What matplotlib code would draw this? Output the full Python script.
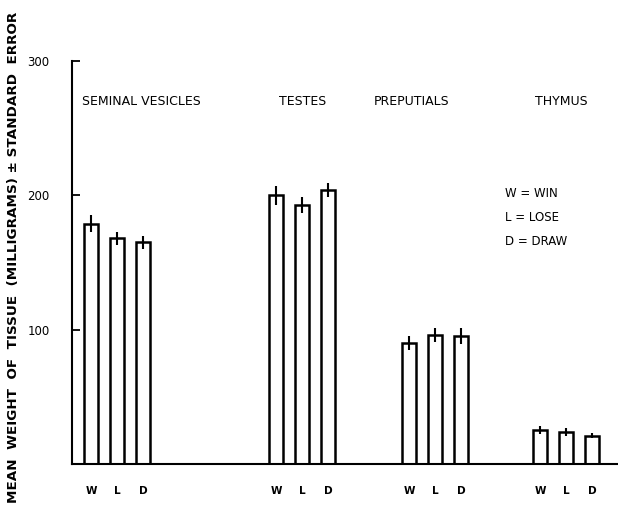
import matplotlib.pyplot as plt

# organ weights (mg) for win / lose / draw
tissues = ["SEMINAL VESICLES", "TESTES", "PREPUTIALS", "THYMUS"]
outcomes = ["W", "L", "D"]
win = [179, 200, 90, 25]
lose = [168, 193, 96, 24]
draw = [165, 204, 95, 21]
win_se = [6, 7, 5, 3]
lose_se = [5, 6, 5, 3]
draw_se = [5, 5, 6, 2]
yticks = [100, 200, 300]

# layout (x in units of bar spacing)
group_centers = [1.73, 8.85, 13.96, 19.0]
title_x = [0.4, 7.95, 11.6, 17.8]
bar_w = 0.54

fig = plt.figure(figsize=(6.18, 5.24), dpi=100)
ax = fig.add_axes([72 / 618, 60 / 524, 546 / 618, 403 / 524])

values = [win, lose, draw]
errors = [win_se, lose_se, draw_se]
xs, hs, es, labels = [], [], [], []
for g, c in enumerate(group_centers):
    for k, o in enumerate(outcomes):
        xs.append(c + (k - 1))
        hs.append(values[k][g])
        es.append(errors[k][g])
        labels.append(o)

ax.bar(xs, hs, width=bar_w, facecolor="white", edgecolor="black", linewidth=1.8)
ax.errorbar(xs, hs, yerr=es, fmt="none", ecolor="black", elinewidth=1.5, capsize=0)

ax.set_xlim(0, 21)
ax.set_ylim(0, 300)
ax.set_yticks(yticks)
ax.set_yticklabels([str(t) for t in yticks], fontsize=8.5)
ax.set_xticks(xs)
ax.set_xticklabels(labels, fontsize=7.5, fontweight="bold")
ax.tick_params(axis="y", direction="in", length=6, width=1.3, pad=16)
ax.tick_params(axis="x", length=0, pad=16)

for s in ["top", "right"]:
    ax.spines[s].set_visible(False)
ax.spines["left"].set_linewidth(1.5)
ax.spines["bottom"].set_linewidth(1.5)

for t, x in zip(tissues, title_x):
    ax.text(x, 270, t, fontsize=9, va="center", ha="left")

leg = ["W = WIN", "L = LOSE", "D = DRAW"]
for i, t in enumerate(leg):
    ax.text(16.65, 201 - i * 17.5, t, fontsize=8.5, va="center", ha="left")

fig.text(0.022, 0.508, "MEAN  WEIGHT  OF  TISSUE  (MILLIGRAMS) \u00b1 STANDARD  ERROR",
         rotation=90, va="center", ha="center", fontsize=9.7, fontweight="bold")

fig.savefig("out.png", dpi=100)
